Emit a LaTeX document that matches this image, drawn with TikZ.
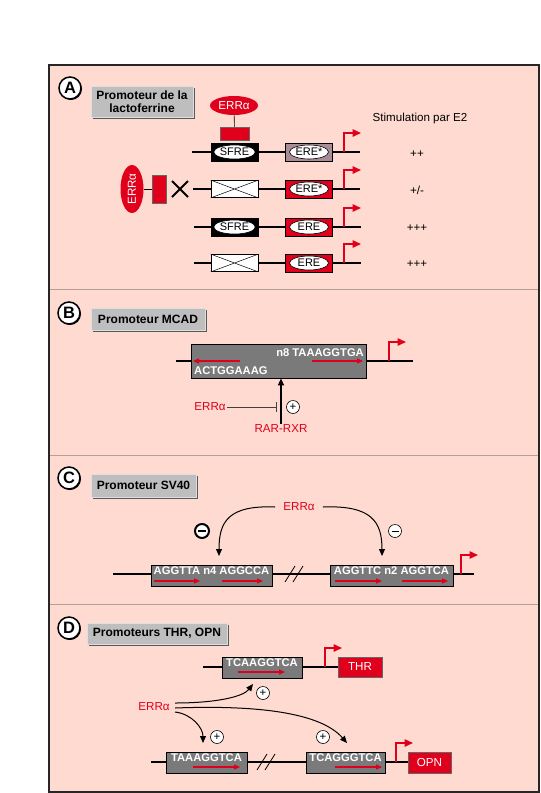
\documentclass[tikz,border=0pt]{standalone}
\usepackage{fontspec}
\setmainfont{Liberation Sans}
\usetikzlibrary{arrows.meta,shapes.geometric,shadows}
\definecolor{bg}{RGB}{255,218,208}
\definecolor{myred}{RGB}{224,0,28}
\definecolor{boxgray}{RGB}{122,122,122}
\definecolor{labgray}{RGB}{190,190,190}
\definecolor{mauve}{RGB}{168,140,150}
\definecolor{sepc}{RGB}{180,160,152}
\newcommand\lblfont{\bfseries\fontsize{12}{13}\selectfont}
\newcommand\seqfont{\bfseries\fontsize{11.2}{12}\selectfont}
\newcommand\txtfont{\fontsize{11.6}{12}\selectfont}
\newcommand\ellfont{\fontsize{11}{12}\selectfont}
\newcommand\letfont{\bfseries\fontsize{16.5}{16.5}\selectfont}
\newcommand\promo[1]{\draw[prom] (#1) -- ++(0,-19) -- ++(17,0);}
\begin{document}
\begin{tikzpicture}[x=1pt,y=-1pt,
 dna/.style={line width=1.8pt},
 lbl/.style={fill=labgray, draw=labgray!50!white, line width=0.6pt, font=\lblfont, align=center, inner sep=1pt,
   drop shadow={shadow xshift=1.6pt, shadow yshift=-1.6pt, fill=black!65, opacity=1}},
 letter/.style={circle, draw, line width=1.5pt, fill=white, minimum size=22pt, inner sep=0pt, font=\letfont,
   drop shadow={shadow xshift=1pt, shadow yshift=-1pt, fill=black, opacity=1}},
 redell/.style={ellipse, fill=myred, text=white, inner sep=0pt, font=\txtfont},
 redbox/.style={rectangle, fill=myred, draw=black!60, line width=0.4pt, inner sep=0pt},
 box/.style={rectangle, draw=black, line width=0.8pt, minimum width=47pt, minimum height=18pt, inner sep=0pt},
 sfrebox/.style={box, fill=black},
 erebox/.style={box, fill=myred},
 crossbox/.style={box, fill=white, minimum height=17pt},
 inell/.style={ellipse, draw=black, line width=0.6pt, fill=white, minimum width=39pt, minimum height=14pt, inner sep=0pt, font=\ellfont},
 val/.style={font=\txtfont},
 prom/.style={myred, line width=1.5pt, -{Triangle[length=8.5pt,width=7.5pt]}},
 seqarr/.style={myred, line width=1.2pt, -{Triangle[length=6pt,width=5pt]}},
 gbox/.style={rectangle, fill=boxgray, draw=black, line width=0.7pt, inner sep=0pt},
 seq/.style={font=\seqfont, text=white, inner sep=0pt},
 redtxt/.style={font=\txtfont, text=myred, inner sep=1pt},
 curv/.style={line width=1pt, -{Triangle[length=7pt,width=6pt]}},
 pm/.style={circle, draw, fill=white, line width=0.6pt, minimum size=13pt, inner sep=0pt, font=\fontsize{11.5}{11.5}\selectfont},
 rbox/.style={rectangle, fill=myred, draw=black!60, line width=0.4pt, text=white, font=\txtfont, inner sep=0pt}
]
\useasboundingbox (0,0) rectangle (541,793);
\fill[white] (0,0) rectangle (541,793);
\fill[bg] (49,65) rectangle (539,792);
\draw[sepc, line width=0.8pt] (49,289) -- (539,289) (49,455) -- (539,455) (49,604) -- (539,604);
\draw[black!85, line width=1.3pt] (49,65) rectangle (539,792);

% ---------------- A
\node[letter] (cA) at (70,88) {A};
\node[lbl, minimum width=102pt, minimum height=31pt] (lbA) at (142,101.5) {Promoteur de la\\lactoferrine};
\node[redell, minimum width=48pt, minimum height=19pt] (eA) at (234,105.5) {ERRα};
\node[redbox, minimum width=29pt, minimum height=13pt] (rA) at (234.5,133.5) {};
\draw[line width=0.6pt] (eA) -- (rA);
\node[val] (stim) at (420,118) {Stimulation par E2};

% row 1
\coordinate (a1l) at (192,152); \coordinate (a1r) at (360,152);
\draw[dna] (a1l) -- (a1r);
\node[sfrebox] (s1) at (234.5,152) {}; \node[inell] (s1e) at (s1) {SFRE};
\node[box, fill=mauve] (e1) at (309,152) {}; \node[inell] (e1e) at (e1) {ERE*};
\coordinate (p1) at (344,152); \promo{p1}
\node[val] (v1) at (417,154) {++};

% row 2
\coordinate (a2l) at (193,189); \coordinate (a2r) at (360,189);
\draw[dna] (a2l) -- (a2r);
\node[crossbox] (x2) at (234.5,189) {};
\draw[line width=0.5pt] (x2.north west) -- (x2.south east) (x2.south west) -- (x2.north east);
\node[erebox] (e2) at (309,189) {}; \node[inell] (e2e) at (e2) {ERE*};
\coordinate (p2) at (344,189); \promo{p2}
\node[val] (v2) at (417,190) {+/-};
\node[redell, rotate=90, minimum width=48pt, minimum height=23pt] (eA2) at (132,189) {ERRα};
\node[redbox, minimum width=14pt, minimum height=28pt] (rA2) at (159,189) {};
\draw[line width=0.6pt] (eA2) -- (rA2);
\coordinate (xm) at (180,189);
\draw[line width=2pt] ([shift={(-8,-8)}]xm) -- ([shift={(8,8)}]xm) ([shift={(-8,8)}]xm) -- ([shift={(8,-8)}]xm);

% row 3
\coordinate (a3l) at (194,227); \coordinate (a3r) at (361,227);
\draw[dna] (a3l) -- (a3r);
\node[sfrebox] (s3) at (234.5,227) {}; \node[inell] (s3e) at (s3) {SFRE};
\node[erebox] (e3) at (309,227) {}; \node[inell] (e3e) at (e3) {ERE};
\coordinate (p3) at (344,227); \promo{p3}
\node[val] (v3) at (417,228) {+++};

% row 4
\coordinate (a4l) at (194,263); \coordinate (a4r) at (361,263);
\draw[dna] (a4l) -- (a4r);
\node[crossbox] (x4) at (234.5,263) {};
\draw[line width=0.5pt] (x4.north west) -- (x4.south east) (x4.south west) -- (x4.north east);
\node[erebox] (e4) at (309,263) {}; \node[inell] (e4e) at (e4) {ERE};
\coordinate (p4) at (344,263); \promo{p4}
\node[val] (v4) at (417,264) {+++};

% ---------------- B
\node[letter] (cB) at (69,313) {B};
\node[lbl, minimum width=114pt, minimum height=22pt] (lbB) at (148,319) {Promoteur MCAD};
\coordinate (bl) at (176,361); \coordinate (br) at (413,361);
\draw[dna] (bl) -- (br);
\node[gbox, minimum width=175pt, minimum height=34pt] (mcad) at (278.5,361) {};
\node[seq, anchor=east] (n8) at (364,353) {n8 TAAAGGTGA};
\node[seq, anchor=west] (actg) at (194,371) {ACTGGAAAG};
\coordinate (bal1) at (240,361); \coordinate (bal2) at (193,361);
\coordinate (bar1) at (312,361); \coordinate (bar2) at (363,361);
\draw[seqarr] (bal1) -- (bal2);
\draw[seqarr] (bar1) -- (bar2);
\coordinate (pB) at (389,361); \promo{pB}
\node[redtxt] (rar) at (281,429) {RAR-RXR};
\draw[line width=1.3pt, -{Triangle[length=7pt,width=6pt]}] (rar.north) -- (rar.north |- mcad.south);
\node[redtxt] (errB) at (210,407) {ERRα};
\coordinate (inhB) at (277,407);
\draw[black!75, line width=0.6pt, -{Bar[width=10pt]}] (errB.east) -- (inhB);
\node[pm] (plB) at (293,407) {+};

% ---------------- C
\node[letter] (cC) at (69,478) {C};
\node[lbl, minimum width=105pt, minimum height=23pt] (lbC) at (143.5,485.5) {Promoteur SV40};
\coordinate (cl) at (113,574); \coordinate (cr) at (474,574);
\draw[dna] (cl) -- (cr);
\node[gbox, minimum width=121pt, minimum height=21pt] (c1) at (211.5,575.5) {};
\node[seq] (c1t) at (211.5,571) {AGGTTA n4 AGGCCA};
\node[gbox, minimum width=123pt, minimum height=21pt] (c2) at (391.5,575.5) {};
\node[seq] (c2t) at (391.5,571) {AGGTTC n2 AGGTCA};
\coordinate (ca1) at (154,581); \coordinate (ca2) at (200,581);
\coordinate (ca3) at (222,581); \coordinate (ca4) at (263,581);
\coordinate (ca5) at (335,581); \coordinate (ca6) at (382,581);
\coordinate (ca7) at (402,581); \coordinate (ca8) at (448,581);
\draw[seqarr] (ca1) -- (ca2); \draw[seqarr] (ca3) -- (ca4);
\draw[seqarr] (ca5) -- (ca6); \draw[seqarr] (ca7) -- (ca8);
\coordinate (brC) at (294,574);
\draw[line width=0.8pt] ([shift={(-9,8)}]brC) -- ([shift={(1,-8)}]brC) ([shift={(-1,8)}]brC) -- ([shift={(9,-8)}]brC);
\coordinate (pC) at (461,574); \promo{pC}
\node[redtxt] (errC) at (299,507) {ERRα};
\coordinate (tc1) at (219,556); \coordinate (tc2) at (382,556);
\draw[curv] ([xshift=-7]errC.west) .. controls (228,505) and (219,522) .. (tc1);
\draw[curv] ([xshift=7]errC.east) .. controls (372,505) and (382,522) .. (tc2);
\node[circle, draw, line width=2pt, fill=white, minimum size=14pt, inner sep=0pt] (m1) at (202,531) {};
\draw[line width=2.2pt] ([xshift=-4]m1.center) -- ([xshift=4]m1.center);
\node[pm] (m2) at (395,531) {};
\draw[line width=0.8pt] ([xshift=-3.5]m2.center) -- ([xshift=3.5]m2.center);

% ---------------- D
\node[letter] (cD) at (69,628) {D};
\node[lbl, minimum width=140pt, minimum height=21pt] (lbD) at (157,633.5) {Promoteurs THR, OPN};
\coordinate (dl1) at (203,667); \coordinate (dr1) at (338,667);
\draw[dna] (dl1) -- (dr1);
\node[gbox, minimum width=80pt, minimum height=21pt] (d1) at (262,667.5) {};
\node[seq] (d1t) at (262,663) {TCAAGGTCA};
\coordinate (da1) at (238,672); \coordinate (da2) at (285,672);
\draw[seqarr] (da1) -- (da2);
\coordinate (pD1) at (325,667); \promo{pD1}
\node[rbox, minimum width=44pt, minimum height=20pt] (thr) at (360,667) {THR};

\node[redtxt] (errD) at (154,707) {ERRα};
\coordinate (s1D) at (175,703); \coordinate (t1D) at (253,684);
\coordinate (s2D) at (175,708); \coordinate (t2D) at (347,743);
\coordinate (s3D) at (175,712); \coordinate (t3D) at (203,743);
\draw[curv] (s1D) .. controls (215,703) and (243,697) .. (t1D);
\draw[curv] (s2D) .. controls (255,705) and (320,712) .. (t2D);
\draw[curv] (s3D) .. controls (192,714) and (203,728) .. (t3D);
\node[pm] (plD1) at (263,693) {+};
\node[pm] (plD2) at (323,737) {+};
\node[pm] (plD3) at (217,737) {+};

\coordinate (dl2) at (151,762); \coordinate (dr2) at (408,762);
\draw[dna] (dl2) -- (dr2);
\node[gbox, minimum width=81pt, minimum height=21pt] (d2) at (206.5,762.5) {};
\node[seq] (d2t) at (206.5,758) {TAAAGGTCA};
\coordinate (db1) at (193,767); \coordinate (db2) at (240,767);
\draw[seqarr] (db1) -- (db2);
\node[gbox, minimum width=79pt, minimum height=21pt] (d3) at (345.5,762.5) {};
\node[seq] (d3t) at (345.5,758) {TCAGGGTCA};
\coordinate (db3) at (335,767); \coordinate (db4) at (382,767);
\draw[seqarr] (db3) -- (db4);
\coordinate (brD) at (266,762);
\draw[line width=0.8pt] ([shift={(-9,8)}]brD) -- ([shift={(1,-8)}]brD) ([shift={(-1,8)}]brD) -- ([shift={(9,-8)}]brD);
\coordinate (pD2) at (396,762); \promo{pD2}
\node[rbox, minimum width=43pt, minimum height=21pt] (opn) at (429.5,762.5) {OPN};
\end{tikzpicture}
\end{document}
